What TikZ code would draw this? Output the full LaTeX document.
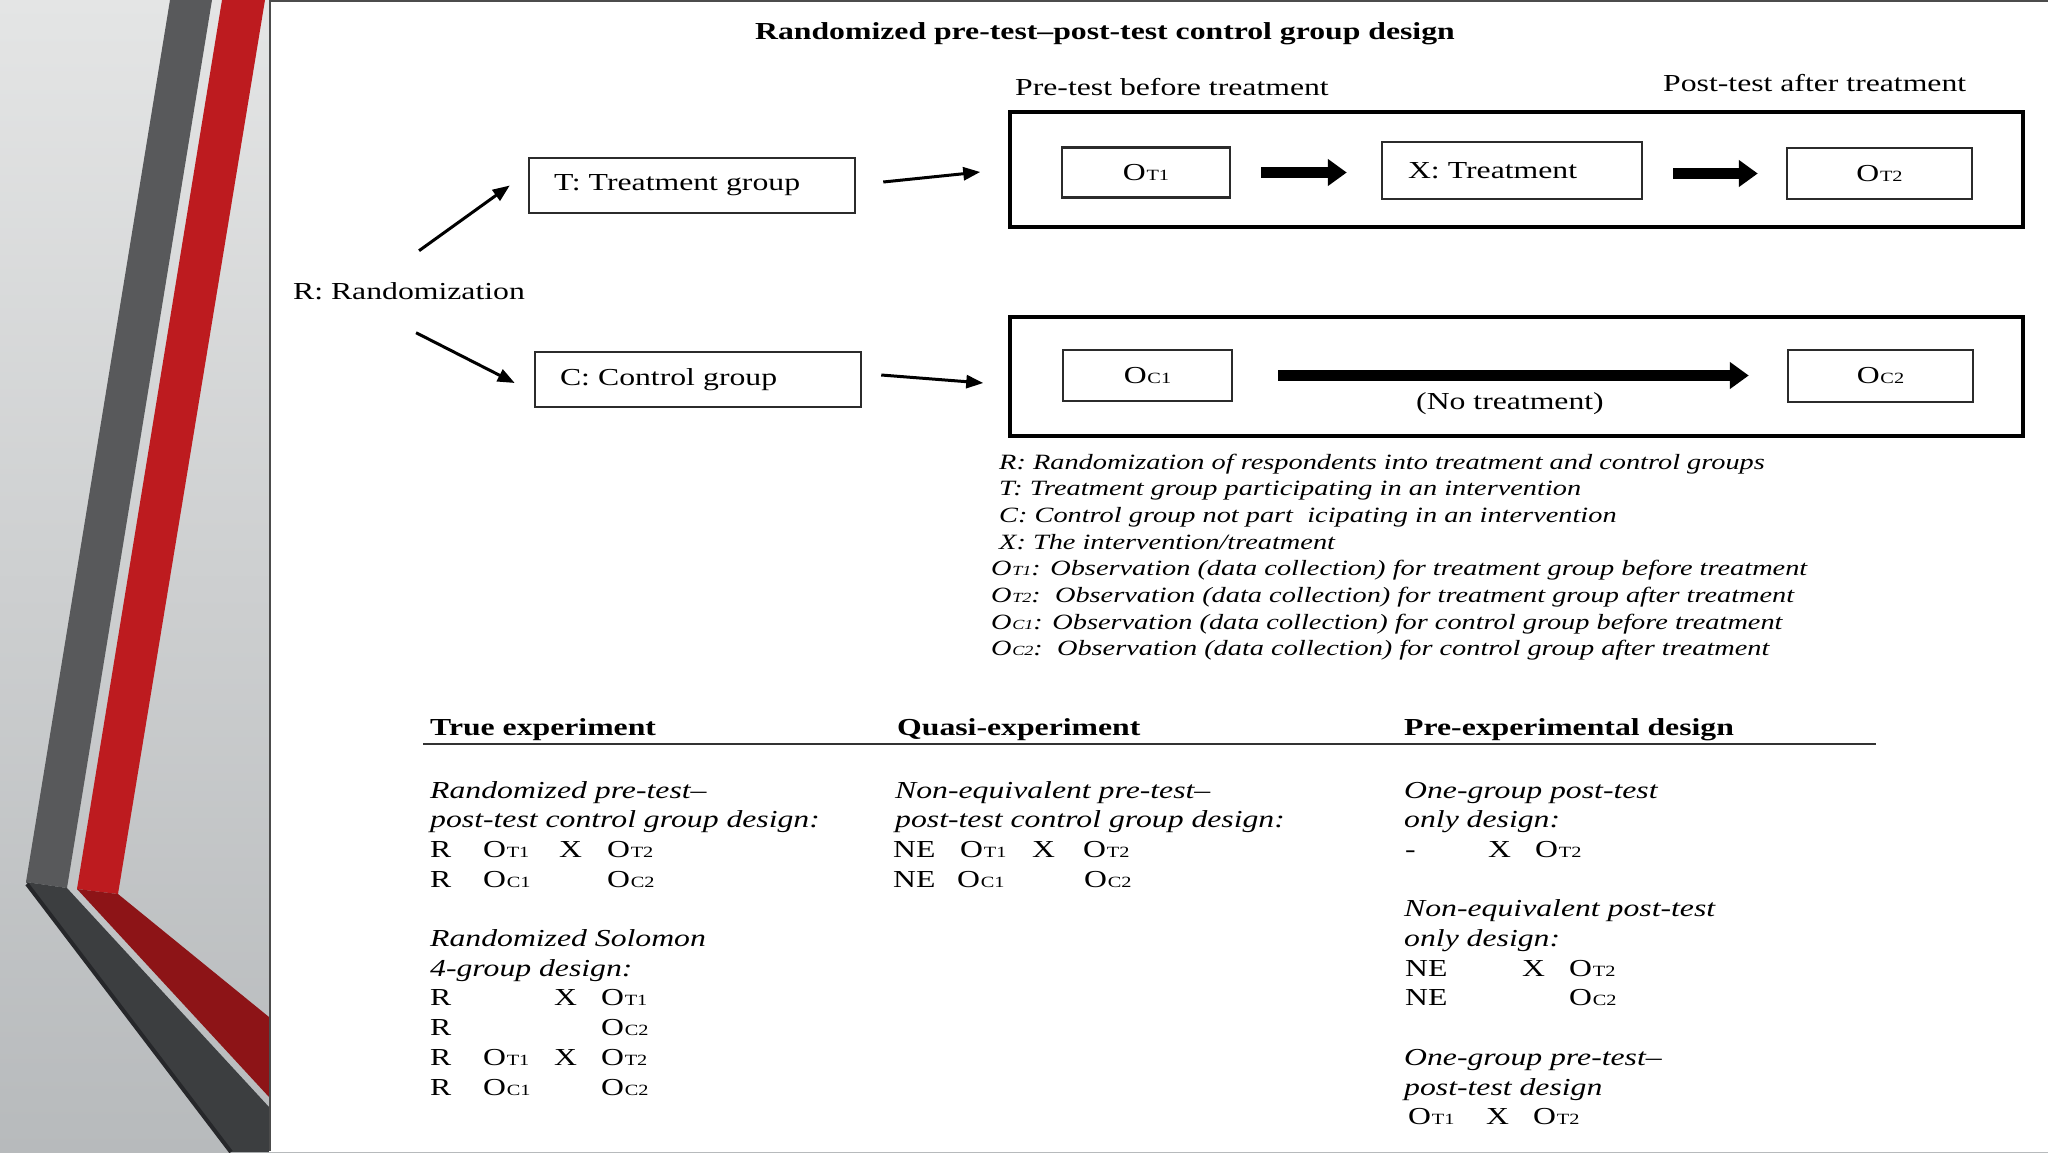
\documentclass[tikz,border=0pt]{standalone}
\usepackage{fontspec}
\setmainfont{Liberation Serif}[FakeStretch=1.3]
\usepackage{graphicx}
\usetikzlibrary{arrows.meta}
\definecolor{bgtop}{HTML}{E4E5E5}
\definecolor{bgbot}{HTML}{B7BABC}
\definecolor{stripegray}{HTML}{58595B}
\definecolor{stripedark}{HTML}{3C3E40}
\definecolor{stripeedge}{HTML}{26272A}
\definecolor{stripered}{HTML}{BD1B1F}
\definecolor{stripedeep}{HTML}{8D1417}
\definecolor{inkgray}{HTML}{2B2B2B}
\newcommand{\Ob}[1]{O\kern0.03em\scalebox{0.64}{#1}}
\newcommand{\cell}[2]{\makebox[#1][l]{#2}}

\tikzset{
  txt/.style={inner sep=0pt, font=\fontsize{24.4}{29}\selectfont},
  headtxt/.style={inner sep=0pt, anchor=base west, font=\fontsize{24.4}{29}\selectfont\bfseries},
  itltxt/.style={inner sep=0pt, anchor=base west, font=\fontsize{24.4}{29}\selectfont\itshape},
  rowtxt/.style={inner sep=0pt, anchor=base west, font=\fontsize{24.4}{29}\selectfont},
  legendtxt/.style={inner sep=0pt, anchor=base west, font=\fontsize{21.8}{26}\selectfont\itshape},
  obsbox/.style={draw=inkgray, line width=2.5pt, fill=white, txt, minimum height=50pt},
  groupbox/.style={draw=inkgray, line width=2.5pt, fill=white, txt, align=left,
    text width=276pt, inner xsep=25pt, minimum height=55pt},
  bigframe/.style={draw=black, line width=3.5pt},
  thin arrow/.style={line width=3pt, -{Triangle[length=17pt,width=13pt]}},
  fat arrow/.style={line width=11pt, -{Triangle[length=19pt,width=26pt]}},
}

\begin{document}
\begin{tikzpicture}[x=1pt,y=-1pt]
    \useasboundingbox (0,0) rectangle (2048,1152);

    % Background and stripes
    \shade[top color=bgtop, bottom color=bgbot] (0,0) rectangle (2048,1152);
    \fill[stripegray] (170,0) -- (212,0) -- (67,888) -- (26,882) -- cycle;
    \fill[stripedark] (26,882) -- (67,888) -- (269,1107) -- (269,1152) -- (230,1152) -- cycle;
    \draw[stripeedge, line width=4pt] (27,884) -- (231,1152);
    \fill[stripered] (222,0) -- (265,0) -- (118,894) -- (77,889) -- cycle;
    \fill[stripedeep] (77,889) -- (118,894) -- (269,1017) -- (269,1097) -- cycle;

    % Panel
    \fill[white] (269,0) rectangle (2048,1152);
    \draw[gray!60!black, line width=2pt] (270,1151) -- (270,1) -- (2048,1);

    % Title
    \node[txt, anchor=base, font=\fontsize{24.4}{29}\selectfont\bfseries] (title) at (1105,39)
        {Randomized pre-test--post-test control group design};
    \node[txt, anchor=base west] (pretest) at (1015,95) {Pre-test before treatment};
    \node[txt, anchor=base west] (posttest) at (1663,91) {Post-test after treatment};

    % Frames
    \node[bigframe, minimum width=1013pt, minimum height=115pt] (tframe) at (1516.5,169.5) {};
    \node[bigframe, minimum width=1013pt, minimum height=119pt] (cframe) at (1516.5,376.5) {};

    % Groups
    \node[txt, anchor=base west] (rnd) at (293,299) {R: Randomization};
    \node[groupbox] (tgrp) at (692,185.5) {T: Treatment group};
    \node[groupbox] (cgrp) at (698,379.5) {C: Control group};

    % Observations
    \node[obsbox, minimum width=168pt] (ot1) at (1146,172.5) {\Ob{T1}};
    \node[obsbox, minimum width=260pt, minimum height=57pt, align=left,
        text width=208pt, inner xsep=26pt] (xtrt) at (1512,170.5) {X: Treatment};
    \node[obsbox, minimum width=185pt, minimum height=51pt] (ot2) at (1879.5,173.5) {\Ob{T2}};
    \node[obsbox, minimum width=169pt, minimum height=51pt] (oc1) at (1147.5,375.5) {\Ob{C1}};
    \node[obsbox, minimum width=185pt, minimum height=52pt] (oc2) at (1880.5,376) {\Ob{C2}};

    % Arrows
    \draw[thin arrow] ([shift={(10,-40)}]rnd.center) -- ([xshift=-18pt]tgrp.west);
    \draw[thin arrow] ([shift={(7,42)}]rnd.center) -- ([shift={(-19,3.5)}]cgrp.west);
    \draw[thin arrow] ([shift={(27,-3.5)}]tgrp.east) -- ([shift={(-28,2.5)}]tframe.west);
    \draw[thin arrow] ([shift={(19,-4.5)}]cgrp.east) -- ([shift={(-25,6.5)}]cframe.west);
    \draw[fat arrow, shorten <=30pt, shorten >=34pt] (ot1.east) -- (ot1.east -| xtrt.west);
    \draw[fat arrow, shorten <=30pt, shorten >=28pt] (xtrt.east |- ot2.west) -- (ot2.west);
    \draw[fat arrow, shorten <=45pt, shorten >=38pt] (oc1.east) -- (oc1.east -| oc2.west)
        node[txt, pos=0.5, yshift=-28pt] (notrt) {(No treatment)};

    % Legend
    \node[legendtxt] (lr) at (999,469) {R: Randomization of respondents into treatment and control groups};
    \node[legendtxt] (lt) at (999,495.7) {T: Treatment group participating in an intervention};
    \node[legendtxt] (lc) at (999,522.4) {C: Control group not part~~icipating in an intervention};
    \node[legendtxt] (lx) at (999,549.1) {X: The intervention/treatment};
    \node[legendtxt] (lot1) at (991,575.8) {\Ob{T1}: Observation (data collection) for treatment group before treatment};
    \node[legendtxt] (lot2) at (991,602.5) {\Ob{T2}:~~Observation (data collection) for treatment group after treatment};
    \node[legendtxt] (loc1) at (991,629.2) {\Ob{C1}: Observation (data collection) for control group before treatment};
    \node[legendtxt] (loc2) at (991,655.9) {\Ob{C2}:~~Observation (data collection) for control group after treatment};

    % Table heads
    \node[headtxt] (htrue) at (430,735) {True experiment};
    \node[headtxt] (hquasi) at (897,735) {Quasi-experiment};
    \node[headtxt] (hpre) at (1404,735) {Pre-experimental design};
    \draw[gray!40!black, line width=2.5pt] (423,744) -- (1876,744);

    % True experiment
    \node[itltxt] (t1a) at (430,798) {Randomized pre-test--};
    \node[itltxt] (t1b) at (430,827.7) {post-test control group design:};
    \node[rowtxt] (t1c) at (430,857.4) {\cell{53pt}{R}\cell{76pt}{\Ob{T1}}\cell{48pt}{X}\Ob{T2}};
    \node[rowtxt] (t1d) at (430,887.1) {\cell{53pt}{R}\cell{124pt}{\Ob{C1}}\Ob{C2}};
    \node[itltxt] (t2a) at (430,946.5) {Randomized Solomon};
    \node[itltxt] (t2b) at (430,976.2) {4-group design:};
    \node[rowtxt] (t2c) at (430,1005.9) {\cell{124pt}{R}\cell{47pt}{X}\Ob{T1}};
    \node[rowtxt] (t2d) at (430,1035.6) {\cell{171pt}{R}\Ob{C2}};
    \node[rowtxt] (t2e) at (430,1065.3) {\cell{53pt}{R}\cell{71pt}{\Ob{T1}}\cell{47pt}{X}\Ob{T2}};
    \node[rowtxt] (t2f) at (430,1095) {\cell{53pt}{R}\cell{118pt}{\Ob{C1}}\Ob{C2}};

    % Quasi-experiment
    \node[itltxt] (q1a) at (895,798) {Non-equivalent pre-test--};
    \node[itltxt] (q1b) at (895,827.7) {post-test control group design:};
    \node[rowtxt] (q1c) at (893,857.4) {\cell{67pt}{NE}\cell{72pt}{\Ob{T1}}\cell{51pt}{X}\Ob{T2}};
    \node[rowtxt] (q1d) at (893,887.1) {\cell{64pt}{NE}\cell{127pt}{\Ob{C1}}\Ob{C2}};

    % Pre-experimental design
    \node[itltxt] (p1a) at (1404,798) {One-group post-test};
    \node[itltxt] (p1b) at (1404,827.7) {only design:};
    \node[rowtxt] (p1c) at (1405,857.4) {\cell{83pt}{-}\cell{47pt}{X}\Ob{T2}};
    \node[itltxt] (p2a) at (1404,916.8) {Non-equivalent post-test};
    \node[itltxt] (p2b) at (1404,946.5) {only design:};
    \node[rowtxt] (p2c) at (1405,976.2) {\cell{117pt}{NE}\cell{47pt}{X}\Ob{T2}};
    \node[rowtxt] (p2d) at (1405,1005.9) {\cell{164pt}{NE}\Ob{C2}};
    \node[itltxt] (p3a) at (1404,1065.3) {One-group pre-test--};
    \node[itltxt] (p3b) at (1404,1095) {post-test design};
    \node[rowtxt] (p3c) at (1408,1124.7) {\cell{78pt}{\Ob{T1}}\cell{47pt}{X}\Ob{T2}};
\end{tikzpicture}
\end{document}
